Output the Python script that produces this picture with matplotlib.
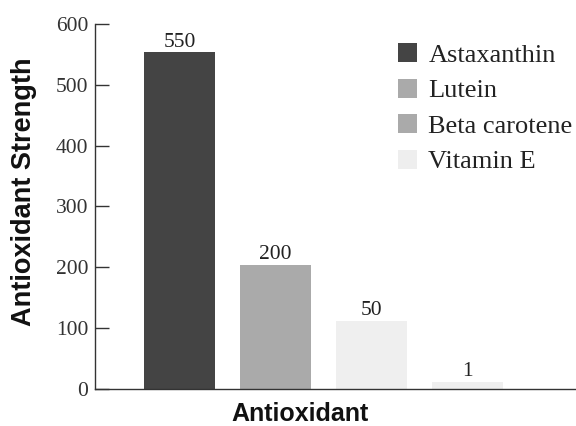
import numpy as np
import matplotlib.pyplot as plt
from matplotlib.patches import Patch

names = ["Astaxanthin", "Lutein", "Beta carotene", "Vitamin E"]
heights = [553, 204, 112, 12]
value_labels = ["550", "200", "50", "1"]
bar_colors = ["#444444", "#aaaaaa", "#efefef", "#efefef"]
legend_colors = ["#444444", "#aaaaaa", "#aaaaaa", "#eeeeee"]
yticks = [0, 100, 200, 300, 400, 500, 600]

fig = plt.figure(figsize=(5.76, 4.26), dpi=100)
ax = fig.add_axes([0.165, 0.087, 0.833, 0.857])

x = np.arange(len(names))
ax.bar(x, heights, width=0.74, color=bar_colors)
for xi, h, lab in zip(x, heights, value_labels):
    ax.text(xi, h + 1, lab, ha="center", va="bottom",
            family="Liberation Serif", fontsize=15.5, color="#222222")

ax.set_xlim(-0.88, 4.12)
ax.set_ylim(0, 600)
ax.set_yticks(yticks)
ax.set_xticks([])
ax.tick_params(axis="y", direction="in", length=10, width=1, color="#333333",
               labelsize=15.5, labelcolor="#333333", pad=5)
for t in ax.get_yticklabels():
    t.set_family("Liberation Serif")
for s in ["top", "right"]:
    ax.spines[s].set_visible(False)
for s in ["left", "bottom"]:
    ax.spines[s].set_color("#333333")
    ax.spines[s].set_linewidth(1)

ax.set_ylabel("Antioxidant Strength", family="Liberation Sans", fontweight="bold",
              fontsize=19.5, color="#111111")
ax.set_xlabel("Antioxidant", family="Liberation Sans", fontweight="bold",
              fontsize=18, color="#111111")
ax.yaxis.set_label_coords(-0.12, 0.541)
ax.xaxis.set_label_coords(0.427, -0.036)

handles = [Patch(facecolor=c, edgecolor="none") for c in legend_colors]
ax.legend(handles, names, loc="upper right", bbox_to_anchor=(1.045, 1.012), frameon=False,
          prop={"family": "Liberation Serif", "size": 19}, handlelength=0.72,
          handleheight=0.72, handletextpad=0.45, labelspacing=0.45,
          labelcolor="#222222")

fig.savefig("out.png")
